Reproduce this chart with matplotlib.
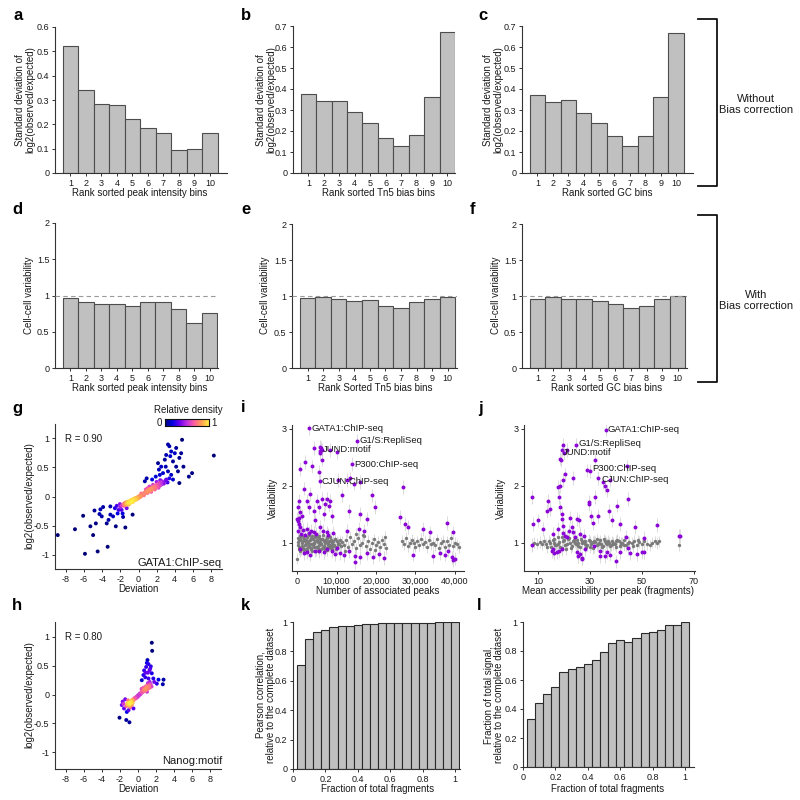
import numpy as np
import matplotlib
matplotlib.use('Agg')
import matplotlib.pyplot as plt
from matplotlib.colors import LinearSegmentedColormap
from matplotlib.lines import Line2D

plt.rcParams['font.family'] = ['Liberation Sans', 'DejaVu Sans']

# ---------------- data ----------------
bins = [1, 2, 3, 4, 5, 6, 7, 8, 9, 10]
sd_peak = [0.520, 0.342, 0.283, 0.280, 0.222, 0.184, 0.165, 0.096, 0.100, 0.165]
sd_tn5 = [0.374, 0.345, 0.345, 0.290, 0.239, 0.169, 0.130, 0.180, 0.360, 0.670]
sd_gc = [0.373, 0.339, 0.347, 0.286, 0.237, 0.175, 0.130, 0.175, 0.363, 0.667]
var_peak = [0.972, 0.913, 0.876, 0.881, 0.858, 0.908, 0.908, 0.807, 0.619, 0.757]
var_tn5 = [0.967, 0.984, 0.963, 0.926, 0.947, 0.864, 0.835, 0.918, 0.963, 0.992]
var_gc = [0.963, 0.982, 0.959, 0.954, 0.936, 0.890, 0.835, 0.867, 0.959, 0.995]

frac_fragments = [0.05, 0.10, 0.15, 0.20, 0.25, 0.30, 0.35, 0.40, 0.45, 0.50,
                  0.55, 0.60, 0.65, 0.70, 0.75, 0.80, 0.85, 0.90, 0.95, 1.00]
pearson_rel = [0.709, 0.884, 0.930, 0.943, 0.964, 0.970, 0.975, 0.980, 0.984, 0.989,
               0.990, 0.991, 0.993, 0.994, 0.995, 0.995, 0.996, 0.997, 0.998, 1.000]
signal_rel = [0.333, 0.441, 0.506, 0.554, 0.653, 0.678, 0.687, 0.710, 0.738, 0.795,
              0.857, 0.878, 0.862, 0.887, 0.926, 0.929, 0.943, 0.982, 0.982, 1.000]

gata1_points = [
    (-8.9, -0.66), (-7.0, -0.56), (-5.9, -0.98), (-6.1, -0.33), (-5.3, -0.51), (-5.0, -0.66),
    (-4.85, -0.24), (-4.5, -0.94), (-4.7, -0.46), (-4.3, -0.30), (-4.2, -0.22), (-4.05, -0.34),
    (-3.9, -0.18), (-3.4, -0.86), (-3.5, -0.46), (-3.3, -0.40), (-3.1, -0.31), (-3.1, -0.17),
    (-2.8, -0.34), (-2.5, -0.51), (-2.4, -0.16), (-2.2, -0.23), (-2.05, -0.13), (-2.0, -0.18),
    (-1.75, -0.29), (-1.7, -0.35), (-1.45, -0.53), (-1.6, -0.16), (-1.3, -0.20), (-1.1, -0.14),
    (-0.65, -0.31), (-2.6, -0.20), (-2.3, -0.29), (-1.86, -0.23),
    (0.7, 0.26), (0.9, 0.31), (1.5, 0.29), (1.9, 0.34), (2.15, 0.57), (2.35, 0.37), (2.7, 0.40),
    (2.9, 0.63), (3.05, 0.71), (3.25, 0.89), (3.4, 0.86), (3.6, 0.77), (3.8, 0.60), (4.0, 0.74),
    (4.15, 0.51), (4.35, 0.43), (4.5, 0.66), (4.7, 0.74), (4.8, 0.97), (4.95, 0.51), (4.5, 0.23),
    (3.8, 0.29), (3.6, 0.37), (5.55, 0.34), (5.9, 0.40), (8.3, 0.70), (3.25, 0.43), (3.0, 0.51),
    (2.5, 0.51), (2.25, 0.46), (3.5, 0.69), (4.15, 0.83), (3.05, 0.29), (3.4, 0.31),
    (-1.8, -0.15), (-1.6, -0.12), (-1.5, -0.14), (-1.4, -0.10), (-1.3, -0.12), (-1.2, -0.09),
    (-1.1, -0.11), (-1.0, -0.08), (-0.9, -0.10), (-0.8, -0.06), (-0.7, -0.08), (-0.6, -0.05),
    (-0.5, -0.07), (-0.4, -0.03), (-0.3, -0.05), (-0.2, -0.02), (-0.1, -0.03), (0.0, 0.00),
    (0.1, -0.01), (0.2, 0.02), (0.3, 0.01), (0.4, 0.04), (0.5, 0.03), (0.6, 0.06), (0.7, 0.05),
    (0.8, 0.08), (0.9, 0.07), (1.0, 0.10), (1.1, 0.09), (1.2, 0.12), (1.3, 0.10), (1.4, 0.14),
    (1.5, 0.12), (1.6, 0.16), (1.7, 0.13), (1.8, 0.18), (1.9, 0.15), (2.0, 0.20), (2.1, 0.16),
    (2.2, 0.22), (2.3, 0.18), (2.4, 0.24), (2.5, 0.20), (2.6, 0.26), (2.8, 0.22), (3.0, 0.27),
    (3.2, 0.24), (-1.2, -0.13), (-0.8, -0.10), (-0.4, -0.06), (0.0, -0.03), (0.3, 0.05),
    (0.6, 0.02), (1.0, 0.06), (1.4, 0.08), (1.8, 0.12), (2.2, 0.15), (1.2, 0.17), (1.6, 0.20),
    (2.0, 0.25), (2.4, 0.28), (1.0, 0.14), (0.8, 0.12), (-1.0, -0.12), (-0.6, -0.09),
    (-0.2, -0.05), (0.2, -0.01), (-1.4, -0.14), (-0.9, -0.07), (-0.5, -0.04),
]

nanog_points = [
    (-2.05, -0.40), (-1.3, -0.44), (-0.95, -0.48), (-1.8, -0.18), (-1.7, -0.12), (-1.55, -0.24),
    (-1.3, -0.20), (-1.17, -0.15), (-1.05, -0.27), (-0.87, -0.22), (-1.42, -0.08), (-0.68, -0.18),
    (-0.5, -0.24), (-1.24, -0.30), (-1.6, -0.16),
    (1.53, 0.90), (1.57, 0.76), (0.98, 0.55), (1.16, 0.53), (0.9, 0.48), (1.35, 0.45), (0.68, 0.42),
    (1.1, 0.38), (0.6, 0.34), (1.53, 0.37), (0.42, 0.25), (1.7, 0.28), (2.27, 0.26), (2.83, 0.26),
    (2.75, 0.18), (2.09, 0.19), (1.16, 0.28), (0.8, 0.30), (1.27, 0.42), (1.05, 0.60), (1.42, 0.49),
    (0.83, 0.38), (1.8, 0.22), (1.24, 0.16),
    (-1.2, -0.17), (-1.0, -0.14), (-0.9, -0.16), (-0.8, -0.11), (-0.7, -0.13), (-0.6, -0.09),
    (-0.5, -0.10), (-0.4, -0.06), (-0.3, -0.07), (-0.2, -0.04), (-0.1, -0.05), (0.0, -0.01),
    (0.1, -0.02), (0.2, 0.02), (0.3, 0.01), (0.4, 0.05), (0.5, 0.04), (0.6, 0.08), (0.7, 0.06),
    (0.8, 0.10), (0.9, 0.08), (1.0, 0.13), (1.1, 0.10), (1.2, 0.15), (1.3, 0.12), (1.4, 0.18),
    (1.5, 0.14), (0.6, 0.12), (0.9, 0.15), (1.1, 0.20), (1.3, 0.22), (0.4, 0.10), (1.0, 0.05),
    (-0.9, -0.20), (-1.1, -0.10), (-0.6, -0.14), (-0.8, -0.15), (-1.0, -0.18), (-0.7, -0.10),
]

peaks_gray = [
    (100, 1.08), (400, 0.93), (700, 1.12), (1000, 0.88), (1300, 1.02), (1600, 1.10), (1900, 0.95),
    (2200, 1.05), (2500, 0.87), (2800, 1.00), (3100, 1.13), (3400, 0.90), (3700, 0.97), (4000, 1.07),
    (4300, 0.92), (4600, 1.03), (4900, 0.86), (5200, 1.09), (5500, 0.96), (5800, 1.01), (6100, 0.89),
    (6400, 1.06), (6700, 0.94), (7000, 1.04), (7300, 0.91), (7600, 1.08), (7900, 0.99), (8200, 0.93),
    (8500, 1.05), (8800, 0.88), (9100, 1.02), (9400, 0.95), (9700, 1.06), (10000, 0.92), (10300, 1.00),
    (10600, 0.97), (10900, 1.04), (11200, 0.94), (11500, 1.01), (11800, 0.96),
    (250, 0.96), (550, 1.04), (850, 0.85), (1150, 0.99), (1450, 0.91), (1750, 1.06), (2050, 1.14),
    (2350, 0.89), (2650, 1.03), (2950, 0.94), (3250, 0.98), (3550, 1.08), (3850, 0.86), (4150, 1.00),
    (4450, 1.11), (4750, 0.93), (5050, 1.04), (5350, 0.90), (5650, 1.12), (5950, 0.97), (6250, 1.07),
    (6550, 0.92), (6850, 1.02), (7150, 0.87), (7450, 1.10), (7750, 0.95), (8050, 1.03), (8350, 1.09),
    (8650, 0.91), (8950, 1.00), (9250, 0.94), (9550, 1.07), (9850, 0.89), (10150, 1.02), (10450, 0.98),
    (150, 1.01), (450, 0.89), (750, 1.06), (1050, 1.13), (1350, 0.94), (1650, 0.87), (1950, 1.02),
    (2250, 0.97), (2550, 1.10), (2850, 0.92), (3150, 1.05), (3450, 0.88), (3750, 1.12), (4050, 0.95),
    (4350, 1.00), (4650, 1.09), (4950, 0.93), (5250, 1.01), (5550, 0.86), (5850, 1.06), (6150, 0.98),
    (6450, 1.13), (6750, 0.90), (7050, 0.99), (7350, 1.03), (7650, 0.87), (7950, 1.11), (8250, 0.96),
    (8550, 1.02), (8850, 0.94),
    (12500, 1.05), (13000, 0.92), (13500, 1.10), (14000, 0.98), (14500, 1.02), (15000, 0.90),
    (15500, 1.08), (16000, 0.96), (16500, 1.00), (17000, 1.12), (17500, 0.94), (18000, 1.03),
    (18500, 0.88), (19000, 1.00), (19500, 1.06), (20000, 0.95), (20500, 1.01), (21000, 0.92),
    (21500, 1.04), (22000, 0.98), (22500, 0.90), (26500, 1.03), (27000, 0.97), (27500, 1.08),
    (28000, 0.94), (28500, 1.00), (29000, 1.05), (29500, 0.99), (30000, 0.93), (30500, 1.02),
    (31000, 0.96), (31500, 1.07), (32000, 0.98), (32500, 1.01), (33000, 0.92), (33500, 1.04),
    (34000, 0.97), (34500, 1.00), (35000, 0.95), (35500, 1.06), (36000, 0.90), (36500, 0.99),
    (37000, 1.03), (37500, 0.93), (38000, 1.02), (38500, 0.96), (39000, 1.08), (39500, 0.94),
    (40000, 1.00), (40500, 0.97), (41000, 0.92), (12200, 0.85), (14800, 1.15), (16800, 1.13),
    (19800, 0.87), (22300, 1.10), (0, 0.72),
]

peaks_purple = [
    (3116, 3.01), (15160, 2.79), (6300, 2.63), (13900, 2.38), (5730, 2.08), (5900, 2.68),
    (6100, 2.66), (5800, 2.62), (4210, 2.67), (840, 2.29), (1940, 2.42), (3790, 2.34), (5470, 2.24),
    (6320, 2.46), (5900, 2.57), (8420, 2.63), (10100, 2.60), (10360, 2.10), (12630, 2.10),
    (13470, 2.13), (14320, 2.04), (16000, 2.07), (26950, 1.98), (1680, 1.95), (420, 1.74),
    (170, 1.62), (670, 1.53), (1260, 1.47), (0, 1.42), (420, 1.33), (840, 1.27), (2530, 1.74),
    (2950, 1.62), (3370, 1.86), (4210, 1.56), (5050, 1.74), (5470, 1.62), (6320, 1.77), (7160, 1.68),
    (7580, 1.77), (8000, 1.65), (8420, 1.74), (6740, 1.50), (8840, 1.47), (4630, 1.39), (2530, 1.24),
    (4210, 1.18), (5900, 1.27), (7580, 1.18), (11370, 1.83), (13050, 1.56), (16000, 1.50),
    (17680, 1.42), (19790, 1.63), (18950, 1.83), (15580, 1.24), (16840, 1.21), (12630, 1.21),
    (26110, 1.45), (27370, 1.33), (28210, 1.28), (32000, 1.24), (33680, 1.18), (37890, 1.34),
    (39580, 1.18), (300, 1.20), (1100, 1.15), (1500, 1.22), (2100, 1.14), (3000, 1.17), (3600, 1.21),
    (4800, 1.16), (6600, 1.20), (7900, 1.14), (9200, 1.17), (200, 1.38), (600, 1.44),
    (1680, 0.82), (3370, 0.79), (5470, 0.85), (10950, 0.82), (11790, 0.78), (13050, 0.85),
    (14740, 0.76), (16000, 0.74), (17680, 0.82), (19200, 0.74), (20630, 0.80), (22060, 0.73),
    (14570, 0.66), (29470, 0.79), (34530, 0.76), (36210, 0.82), (37470, 0.79), (39160, 0.74),
    (40000, 0.72), (39400, 0.69), (38310, 0.86), (10100, 0.91), (7580, 0.88), (840, 0.88),
    (2400, 0.84), (4500, 0.86), (6800, 0.83), (8900, 0.85), (9600, 0.80),
]

access_gray = [
    (13, 0.98), (14, 1.03), (15, 0.93), (16, 1.06), (17, 0.96), (18, 1.01), (19, 0.91), (20, 1.04),
    (21, 0.97), (22, 1.08), (23, 0.94), (24, 1.00), (25, 1.05), (26, 0.92), (27, 0.99), (28, 1.03),
    (29, 0.95), (30, 1.02), (31, 0.90), (32, 1.01), (33, 0.97), (34, 1.04), (35, 0.94), (36, 0.99),
    (37, 1.03), (38, 0.96), (39, 1.00), (40, 0.93), (41, 1.02), (42, 0.98), (43, 1.04), (44, 0.95),
    (45, 1.01),
    (13.5, 0.92), (14.5, 1.00), (15.5, 1.05), (16.5, 0.95), (17.5, 1.09), (18.5, 0.93), (19.5, 1.02),
    (20.5, 0.96), (21.5, 1.06), (22.5, 0.91), (23.5, 1.03), (24.5, 0.97), (25.5, 0.94), (26.5, 1.07),
    (27.5, 1.01), (28.5, 0.93), (29.5, 1.05), (30.5, 0.97), (31.5, 1.03), (32.5, 0.95), (33.5, 1.00),
    (34.5, 0.92), (35.5, 1.06), (36.5, 0.98), (37.5, 0.94), (38.5, 1.02), (39.5, 0.97), (40.5, 1.05),
    (41.5, 0.94), (42.5, 1.00),
    (16.2, 1.00), (17.8, 0.97), (19.2, 1.10), (20.8, 0.89), (22.2, 1.00), (23.8, 1.05), (25.2, 0.99),
    (26.8, 1.02), (28.2, 0.97), (29.8, 0.92), (31.2, 1.01), (32.8, 1.06), (34.2, 0.98), (35.8, 1.03),
    (37.2, 1.00), (38.8, 0.97), (40.2, 1.03), (41.8, 1.00), (43.2, 0.96), (44.8, 0.99),
    (7.5, 0.96), (8.5, 1.00), (9.5, 0.98), (10.5, 1.01), (11.5, 0.97), (12.3, 1.03), (46, 0.99),
    (47, 1.03), (48, 0.96), (49, 1.01), (50, 0.98), (51, 1.02), (52, 0.97), (53, 0.95), (54, 1.00),
    (55, 1.02), (56, 0.99), (56.5, 1.02), (64.5, 0.96), (46.5, 0.94), (48.5, 1.04),
]

access_purple = [
    (36.1, 2.99), (24.6, 2.72), (19.9, 2.58), (30.0, 2.26), (33.2, 2.14),
    (7.4, 1.80), (19.7, 2.72), (19.0, 2.63), (18.4, 2.48), (21.0, 2.63), (18.7, 2.45), (20.3, 2.20),
    (19.4, 2.10), (18.4, 2.00), (23.3, 2.14), (28.7, 2.27), (31.9, 2.45), (34.9, 2.07), (35.8, 2.00),
    (36.7, 1.92), (37.7, 2.10), (44.2, 2.34), (44.5, 1.77), (31.9, 1.80), (29.4, 1.71), (29.6, 1.68),
    (13.9, 1.74), (13.2, 1.56), (14.5, 1.59), (17.7, 1.98), (18.1, 1.80), (18.4, 1.62), (19.0, 1.50),
    (19.2, 1.42), (19.7, 1.30), (22.3, 1.44), (22.9, 1.27), (24.8, 1.42), (25.9, 1.39), (30.4, 1.46),
    (31.0, 1.34), (33.2, 1.47), (37.4, 1.56), (40.3, 1.65), (38.4, 1.39), (41.6, 1.33), (47.4, 1.28),
    (8.1, 1.33), (10.0, 1.39), (11.9, 1.24), (55.8, 1.31), (64.2, 1.12), (64.8, 1.12), (15.8, 1.15),
    (21.0, 1.09), (23.5, 1.18), (17.7, 1.24), (20.5, 1.12), (22.0, 1.20), (24.0, 1.10), (26.0, 1.15),
    (19.5, 1.17), (27.5, 1.12), (44.0, 1.10), (51.0, 1.08),
    (15.2, 0.85), (15.8, 0.88), (17.1, 0.84), (19.0, 0.88), (25.5, 0.76), (26.1, 0.80), (26.8, 0.73),
    (28.1, 0.88), (33.9, 0.76), (35.8, 0.76), (37.7, 0.79), (40.0, 0.67), (41.6, 0.84), (45.5, 0.82),
    (48.1, 0.80), (50.0, 0.84), (50.9, 0.84), (7.4, 0.96), (31.6, 0.94), (33.9, 0.85), (36.5, 0.84),
    (44.5, 0.91), (16.0, 0.82), (18.0, 0.86), (24.8, 0.83), (27.0, 0.72),
]

peaks_labels = [('GATA1:ChIP-seq', 0), ('G1/S:RepliSeq', 1), ('JUND:motif', 2),
                ('P300:ChIP-seq', 3), ('CJUN:ChIP-seq', 4)]

# ---------------- figure ----------------
W = H = 800
fig = plt.figure(figsize=(8, 8), dpi=100)

EDGE = '#333333'
BAR_FC = '#c0c0c0'
BAR_EC = '#4d4d4d'
FS = 7
TFS = 6.5


def add_ax(x0, x1, y0, y1):
    return fig.add_axes([x0 / W, 1 - y1 / H, (x1 - x0) / W, (y1 - y0) / H])


def ftext(x, y, s, **kw):
    kw.setdefault('fontsize', FS)
    kw.setdefault('color', '#1a1a1a')
    fig.text(x / W, 1 - y / H, s, **kw)


def xlab(xc, spine_y, s):
    ftext(xc, spine_y + 23, s, ha='center', va='baseline')


def style(ax):
    for s in ['top', 'right']:
        ax.spines[s].set_visible(False)
    for s in ['left', 'bottom']:
        ax.spines[s].set_linewidth(0.8)
        ax.spines[s].set_color(EDGE)
    ax.tick_params(direction='out', length=2.5, width=0.7, labelsize=TFS, pad=1.5,
                   colors=EDGE, labelcolor='#1a1a1a')


def fmt(v):
    return ('%g' % v)


def bar_panel(rect, vals, ymax, yticks, xmax, dashed=False):
    ax = add_ax(*rect)
    style(ax)
    ax.bar(bins, vals, width=1.0, color=BAR_FC, edgecolor=BAR_EC, linewidth=0.8, zorder=2)
    ax.set_xlim(0, xmax)
    ax.set_ylim(0, ymax)
    ax.set_xticks(bins)
    ax.set_xticklabels([str(b) for b in bins])
    ax.set_yticks(yticks)
    ax.set_yticklabels([fmt(t) for t in yticks])
    if dashed:
        ax.axhline(1, color='#999999', lw=0.8, ls=(0, (4, 3)), zorder=3)
    return ax


# row 1
sd_ticks6 = [0, 0.1, 0.2, 0.3, 0.4, 0.5, 0.6]
sd_ticks7 = [0, 0.1, 0.2, 0.3, 0.4, 0.5, 0.6, 0.7]
bar_panel((55, 227, 27, 173), sd_peak, 0.6, sd_ticks6, 11.1)
bar_panel((293, 455, 26, 173), sd_tn5, 0.7, sd_ticks7, 10.5)
bar_panel((522, 693, 26, 173), sd_gc, 0.7, sd_ticks7, 11.1)

ylab_sd = 'Standard deviation of\nlog2(observed/expected)'
ftext(25, 100, ylab_sd, rotation=90, ha='center', va='center', linespacing=1.05)
ftext(266, 100, ylab_sd, rotation=90, ha='center', va='center', linespacing=1.05)
ftext(493, 100, ylab_sd, rotation=90, ha='center', va='center', linespacing=1.05)
xlab(140, 173, 'Rank sorted peak intensity bins')
xlab(378, 173, 'Rank sorted Tn5 bias bins')
xlab(607, 173, 'Rank sorted GC bins')

# row 2
var_ticks = [0, 0.5, 1, 1.5, 2]
bar_panel((55, 218, 223, 368), var_peak, 2, var_ticks, 10.55, dashed=True)
bar_panel((292, 457, 224, 368), var_tn5, 2, var_ticks, 10.6, dashed=True)
bar_panel((522, 687, 224, 368), var_gc, 2, var_ticks, 10.6, dashed=True)
ftext(29, 295, 'Cell-cell variability', rotation=90, ha='center', va='center')
ftext(265, 295, 'Cell-cell variability', rotation=90, ha='center', va='center')
ftext(496, 295, 'Cell-cell variability', rotation=90, ha='center', va='center')
xlab(140, 368, 'Rank sorted peak intensity bins')
xlab(375, 368, 'Rank Sorted Tn5 bias bins')
xlab(607, 368, 'Rank sorted GC bias bins')

# brackets
for (ytop, ybot, label) in [(19, 186, 'Without\nBias correction'), (215, 382, 'With\nBias correction')]:
    xs = [698 / W, 717 / W, 717 / W, 698 / W]
    ys = [1 - ytop / H, 1 - ytop / H, 1 - ybot / H, 1 - ybot / H]
    fig.add_artist(Line2D(xs, ys, color='#111111', lw=1.3))
    ftext(756, (ytop + ybot) / 2 + 2, label, ha='center', va='center', fontsize=8, linespacing=1.15)

# density colormap
dens_cmap = LinearSegmentedColormap.from_list(
    'dens', ['#00007a', '#0000e6', '#6a00f0', '#c030e0', '#ff60a0', '#ffa050', '#ffee40'])


def density(pts, sx, sy):
    x = pts[:, 0]
    y = pts[:, 1]
    dx = (x[:, None] - x[None, :]) / sx
    dy = (y[:, None] - y[None, :]) / sy
    d = np.exp(-0.5 * (dx ** 2 + dy ** 2)).sum(1)
    return (d - d.min()) / (d.max() - d.min())


def dev_panel(rect, pts, ylim, rtext, name, name_y, r_y):
    ax = add_ax(*rect)
    style(ax)
    pts = np.array(pts)
    d = density(pts, 0.45, 0.05)
    order = np.argsort(d)
    ax.scatter(pts[order, 0], pts[order, 1], c=d[order], cmap=dens_cmap, vmin=0, vmax=1,
               s=8, linewidths=0, zorder=3)
    ax.set_xlim(-9.2, 9.2)
    ax.set_ylim(*ylim)
    xt = [-8, -6, -4, -2, 0, 2, 4, 6, 8]
    ax.set_xticks(xt)
    ax.set_xticklabels([str(t) for t in xt])
    yt = [-1, -0.5, 0, 0.5, 1]
    ax.set_yticks(yt)
    ax.set_yticklabels([fmt(t) for t in yt])
    ftext(65, r_y, rtext, ha='left', va='center', fontsize=7)
    ftext(222, name_y, name, ha='right', va='center', fontsize=8)
    return ax


dev_panel((55, 222, 424, 569), gata1_points, (-1.24, 1.24), 'R = 0.90', 'GATA1:ChIP-seq', 563, 439)
ftext(29, 496, 'log2(observed/expected)', rotation=90, ha='center', va='center')
xlab(138, 569, 'Deviation')

dev_panel((55, 221, 622, 769), nanog_points, (-1.29, 1.26), 'R = 0.80', 'Nanog:motif', 761, 637)
ftext(29, 695, 'log2(observed/expected)', rotation=90, ha='center', va='center')
xlab(138, 769, 'Deviation')

# colorbar for density
cax = add_ax(165, 209, 419, 426)
grad = np.linspace(0, 1, 256)[None, :]
cax.imshow(grad, aspect='auto', cmap=dens_cmap, extent=(0, 1, 0, 1))
cax.set_xticks([])
cax.set_yticks([])
for s in cax.spines.values():
    s.set_linewidth(0.8)
    s.set_color('#111111')
ftext(188, 410, 'Relative density', ha='center', va='center')
ftext(162, 423, '0', ha='right', va='center', fontsize=7)
ftext(211, 423, '1', ha='left', va='center', fontsize=7)

# variability panels
PURPLE = '#8a05d6'
GRAY = '#7a7a7a'
ERR_GRAY = 0.10
ERR_PURPLE = 0.12


def var_panel(rect, gray, purple, xlim, xticks, xticklabels, label_offsets):
    ax = add_ax(*rect)
    style(ax)
    g = np.array(gray)
    p = np.array(purple)
    ax.errorbar(g[:, 0], g[:, 1], yerr=ERR_GRAY, fmt='none', ecolor='#d6d6d6', elinewidth=0.6, zorder=1)
    ax.errorbar(p[:, 0], p[:, 1], yerr=ERR_PURPLE, fmt='none', ecolor='#d6d6d6', elinewidth=0.6, zorder=1)
    ax.scatter(g[:, 0], g[:, 1], s=6, color=GRAY, linewidths=0, zorder=2)
    ax.scatter(p[:, 0], p[:, 1], s=8, color=PURPLE, linewidths=0, zorder=3)
    for (name, idx), off in zip(peaks_labels, label_offsets):
        ax.annotate(name, (p[idx, 0], p[idx, 1]), xytext=off, textcoords='offset points',
                    ha='left', va='center', fontsize=6.8, color='#1a1a1a', zorder=4)
    ax.set_xlim(*xlim)
    ax.set_ylim(0.5, 3.07)
    ax.set_xticks(xticks)
    ax.set_xticklabels(xticklabels)
    ax.set_yticks([1, 2, 3])
    ax.set_yticklabels(['1', '2', '3'])
    return ax


var_panel((292, 464, 425, 571), peaks_gray, peaks_purple, (-1300, 42300),
          [0, 10000, 20000, 30000, 40000], ['0', '10,000', '20,000', '30,000', '40,000'],
          [(1.5, 0), (1.5, 0), (1.0, 0), (1.5, 0), (1.5, 0)])
ftext(273, 498, 'Variability', rotation=90, ha='center', va='center')
xlab(378, 571, 'Number of associated peaks')

var_panel((524, 695, 425, 571), access_gray, access_purple, (4.5, 70.5),
          [10, 30, 50, 70], ['10', '30', '50', '70'],
          [(1.5, 0), (1.5, 1), (-1.0, 0), (1.5, 1.5), (2.0, -1.5)])
ftext(501, 498, 'Variability', rotation=90, ha='center', va='center')
xlab(608, 571, 'Mean accessibility per peak (fragments)')

# subsampling panels
def frac_panel(rect, vals, xmax):
    ax = add_ax(*rect)
    style(ax)
    ax.bar(frac_fragments, vals, width=0.05, color=BAR_FC, edgecolor='#2a2a2a', linewidth=0.8, zorder=2)
    ax.set_xlim(0, xmax)
    ax.set_ylim(0, 1)
    xt = [0, 0.2, 0.4, 0.6, 0.8, 1]
    ax.set_xticks(xt)
    ax.set_xticklabels([fmt(t) for t in xt])
    ax.set_yticks(xt)
    ax.set_yticklabels([fmt(t) for t in xt])
    return ax


frac_panel((293, 460, 622, 769), pearson_rel, 1.03)
ftext(266, 695, 'Pearson correlation,\nrelative to the complete dataset', rotation=90,
      ha='center', va='center', linespacing=1.05)
xlab(378, 769, 'Fraction of total fragments')

frac_panel((523, 694, 622, 767), signal_rel, 1.055)
ftext(494, 695, 'Fraction of total signal,\nrelative to the complete dataset', rotation=90,
      ha='center', va='center', linespacing=1.05)
xlab(608, 769, 'Fraction of total fragments')

# panel letters
letters = [('a', 13, 15), ('b', 241, 15), ('c', 478, 15),
           ('d', 12, 210), ('e', 241, 210), ('f', 470, 210),
           ('g', 12, 408), ('i', 241, 408), ('j', 478, 408),
           ('h', 12, 606), ('k', 241, 606), ('l', 477, 606)]
for s, x, y in letters:
    ftext(x, y, s, ha='left', va='center', fontsize=12, fontweight='bold', color='black')

fig.savefig('out.png', dpi=100, facecolor='white')
